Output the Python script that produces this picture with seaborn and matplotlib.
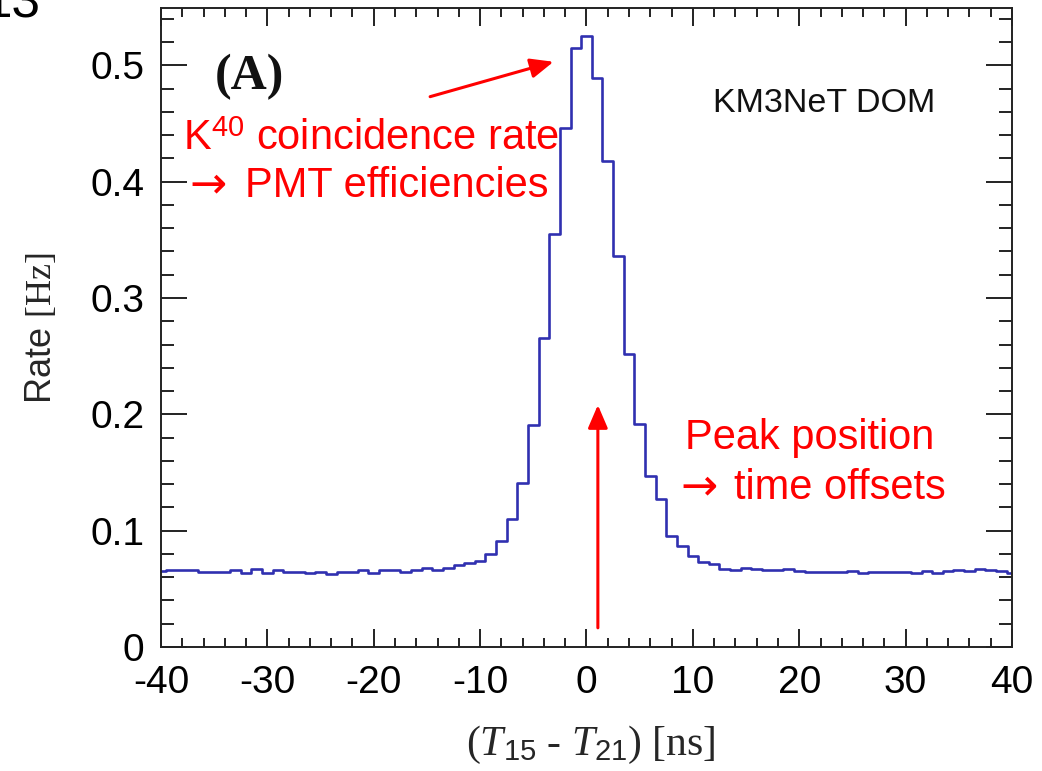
import numpy as np
import pandas as pd
import matplotlib
matplotlib.use("Agg")
import matplotlib.pyplot as plt
from matplotlib.ticker import MultipleLocator, FixedLocator, FixedFormatter
import seaborn as sns

# Coincidence-time histogram between PMT 15 and PMT 21 (1 ns bins, centred on integers)
time_ns = np.arange(-40, 41)
rate_hz = [
    0.0655, 0.0664, 0.0664, 0.0664, 0.0649, 0.0649, 0.0649, 0.0664, 0.0640, 0.0670,  # -40..-31
    0.0640, 0.0664, 0.0643, 0.0643, 0.0632, 0.0644, 0.0629, 0.0649, 0.0644, 0.0658,  # -30..-21
    0.0635, 0.0658, 0.0658, 0.0649, 0.0661, 0.0675, 0.0658, 0.0680, 0.0703, 0.0720,  # -20..-11
    0.0741, 0.0801, 0.0914, 0.1098, 0.1408, 0.1905, 0.2653, 0.3550, 0.4460, 0.5150,  # -10..-1
    0.5252,                                                                          # 0
    0.4890, 0.4180, 0.3360, 0.2515, 0.1918, 0.1467, 0.1270, 0.0958, 0.0868, 0.0784,  # 1..10
    0.0735, 0.0713, 0.0672, 0.0664, 0.0678, 0.0670, 0.0661, 0.0661, 0.0672, 0.0655,  # 11..20
    0.0644, 0.0644, 0.0644, 0.0644, 0.0656, 0.0632, 0.0644, 0.0644, 0.0644, 0.0644,  # 21..30
    0.0632, 0.0650, 0.0632, 0.0650, 0.0664, 0.0650, 0.0672, 0.0664, 0.0650, 0.0632,  # 31..40
]
x_ticks = [-40, -30, -20, -10, 0, 10, 20, 30, 40]
x_tick_labels = ["-40", "-30", "-20", "-10", "0", "10", "20", "30", "40"]
y_ticks = [0, 0.1, 0.2, 0.3, 0.4, 0.5]
y_tick_labels = ["0", "0.1", "0.2", "0.3", "0.4", "0.5"]

sns.set_theme(style="ticks")
plt.rcParams["font.family"] = ["Liberation Sans", "DejaVu Sans"]
plt.rcParams["mathtext.fontset"] = "custom"
plt.rcParams["mathtext.rm"] = "Liberation Sans"
plt.rcParams["mathtext.it"] = "Liberation Serif:italic"
plt.rcParams["mathtext.sf"] = "Liberation Serif"
plt.rcParams["axes.unicode_minus"] = False

fig = plt.figure(figsize=(10.42, 7.71), dpi=100)
ax = fig.add_axes([0.1545, 0.1608, 0.8167, 0.8285])

hist_df = pd.DataFrame({"dt": time_ns, "rate": rate_hz})
sns.histplot(data=hist_df, x="dt", weights="rate", binwidth=1, binrange=(-40.5, 40.5),
             element="step", fill=False, color="#3030b0", linewidth=1.9, ax=ax)

ax.set_xlim(-40, 40)
ax.set_ylim(0, 0.549)

ax.xaxis.set_major_locator(FixedLocator(x_ticks))
ax.xaxis.set_major_formatter(FixedFormatter(x_tick_labels))
ax.xaxis.set_minor_locator(MultipleLocator(2))
ax.yaxis.set_major_locator(FixedLocator(y_ticks))
ax.yaxis.set_major_formatter(FixedFormatter(y_tick_labels))
ax.yaxis.set_minor_locator(MultipleLocator(0.02))

for side in ["left", "right", "top", "bottom"]:
    ax.spines[side].set_visible(True)
    ax.spines[side].set_linewidth(1.4)
    ax.spines[side].set_color("#222222")

ax.tick_params(axis="both", which="both", direction="in", top=True, right=True,
               color="#222222", width=1.4, labelsize=28, labelcolor="black")
ax.tick_params(axis="x", which="major", length=13, pad=13)
ax.tick_params(axis="x", which="minor", length=6.5)
ax.tick_params(axis="y", which="major", length=19, pad=12)
ax.tick_params(axis="y", which="minor", length=9.5)

ax.set_xlabel(r"($T_{\mathrm{15}}$ - $T_{\mathrm{21}}$) [ns]", fontsize=30,
              family="Liberation Serif")
ax.xaxis.set_label_coords(0.505, -0.154)
ax.xaxis.label.set_va("center")
ax.set_ylabel(r"Rate $\mathsf{[Hz]}$", fontsize=26)
ax.yaxis.set_label_coords(-0.14, 0.50)
ax.yaxis.label.set_va("center")

# Panel tag and detector label
ax.text(-31.7, 0.490, "(A)", family="Liberation Serif", fontweight="bold",
        fontsize=36, ha="center", va="center", color="#111111")
ax.text(0.779, 0.851, "KM3NeT DOM", transform=ax.transAxes, fontsize=24.5,
        ha="center", va="center", color="#111111")

# Red annotations
red = "#ff0000"
ax.text(-37.9, 0.437, r"K$^{\mathrm{40}}$ coincidence rate", fontsize=30, color=red,
        ha="left", va="center")
ax.text(-37.3, 0.397, "\u2192", fontsize=32, color=red, family="DejaVu Sans",
        ha="left", va="center")
ax.text(-32.1, 0.396, "PMT efficiencies", fontsize=30, color=red,
        ha="left", va="center")
ax.text(9.24, 0.180, "Peak position", fontsize=30, color=red, ha="left", va="center")
ax.text(8.8, 0.138, "\u2192", fontsize=32, color=red, family="DejaVu Sans",
        ha="left", va="center")
ax.text(13.9, 0.137, "time offsets", fontsize=30, color=red, ha="left", va="center")

arrow_style = dict(arrowstyle="-|>,head_length=0.7,head_width=0.3", color=red,
                   lw=2.2, mutation_scale=20, shrinkA=0, shrinkB=0)
ax.annotate("", xy=(-3.1, 0.503), xytext=(-14.7, 0.473), arrowprops=arrow_style)
ax.annotate("", xy=(1.07, 0.208), xytext=(1.07, 0.0165), arrowprops=arrow_style)

# Page number partly outside the canvas
fig.text(-0.016, 1 - 17 / 771, "13", fontsize=37, ha="left", va="baseline", color="black")

fig.savefig("out.png", dpi=100)
